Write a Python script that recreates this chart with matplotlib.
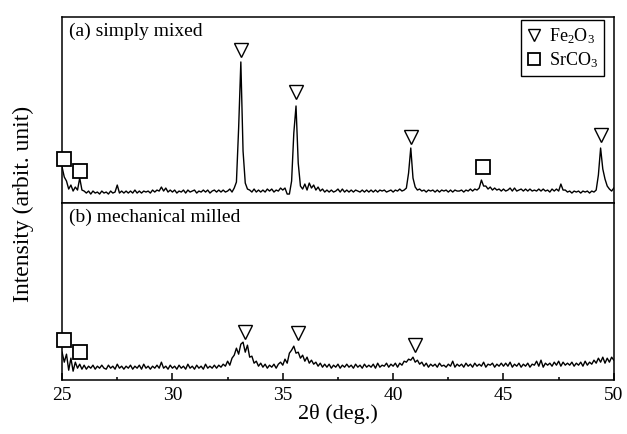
import numpy as np
import matplotlib
matplotlib.use("Agg")
from matplotlib import pyplot as plt
from matplotlib.lines import Line2D

plt.rcParams['font.family'] = ['Liberation Serif', 'DejaVu Serif']
plt.rcParams['mathtext.default'] = 'regular'

# 2theta grid of the scan (deg.), step 0.1
two_theta = np.round(np.arange(25.0, 50.0001, 0.1), 2)

# (a) simply mixed, intensity (arbit. unit)
mixed = [
    36, 26, 22, 14, 18, 12, 16, 13, 25, 13,
    12, 10, 12, 9, 12, 10, 11, 9, 12, 10,
    11, 9, 12, 10, 11, 18, 10, 12, 10, 12,
    10, 12, 10, 13, 10, 12, 10, 12, 11, 12,
    10, 13, 11, 13, 12, 16, 12, 15, 11, 13,
    11, 13, 10, 12, 11, 13, 10, 13, 11, 12,
    13, 10, 12, 11, 13, 11, 13, 10, 12, 13,
    11, 13, 11, 13, 11, 12, 14, 11, 15, 21,
    75, 141, 52, 20, 14, 13, 11, 14, 11, 13,
    11, 13, 11, 14, 12, 14, 11, 13, 12, 15,
    13, 15, 9, 9, 22, 70, 97, 40, 17, 14,
    19, 13, 20, 15, 18, 13, 16, 12, 14, 11,
    13, 11, 13, 11, 12, 14, 11, 14, 11, 13,
    11, 13, 11, 13, 12, 11, 13, 11, 13, 11,
    13, 11, 13, 11, 13, 12, 13, 11, 12, 13,
    11, 13, 12, 14, 12, 13, 15, 30, 55, 25,
    16, 13, 14, 12, 13, 11, 13, 12, 13, 11,
    13, 11, 13, 12, 13, 11, 13, 11, 13, 12,
    12, 13, 11, 13, 12, 14, 12, 14, 13, 15,
    23, 17, 17, 14, 16, 13, 15, 13, 14, 12,
    14, 12, 13, 15, 12, 15, 12, 13, 14, 12,
    14, 12, 14, 12, 13, 12, 14, 12, 14, 12,
    13, 11, 14, 12, 14, 12, 19, 13, 13, 11,
    12, 10, 12, 11, 12, 10, 12, 11, 12, 10,
    12, 11, 13, 28, 55, 34, 24, 17, 14, 12,
    15,
]

# (b) mechanical milled
milled = [
    28, 18, 26, 10, 22, 9, 18, 12, 16, 11,
    15, 11, 14, 12, 15, 11, 14, 12, 15, 12,
    11, 15, 12, 14, 11, 16, 12, 14, 11, 14,
    12, 15, 11, 14, 12, 15, 11, 16, 12, 14,
    11, 14, 12, 15, 12, 18, 12, 14, 11, 15,
    12, 14, 11, 15, 12, 14, 11, 16, 12, 14,
    11, 15, 12, 14, 11, 16, 12, 14, 12, 15,
    12, 15, 13, 16, 14, 19, 15, 22, 25, 32,
    26, 36, 38, 28, 35, 23, 24, 17, 19, 14,
    17, 13, 16, 12, 15, 13, 16, 12, 16, 18,
    15, 21, 17, 27, 30, 34, 27, 28, 22, 25,
    19, 23, 17, 20, 16, 18, 14, 17, 13, 16,
    13, 16, 12, 15, 13, 16, 12, 15, 13, 16,
    13, 15, 12, 16, 13, 15, 12, 16, 13, 15,
    13, 16, 12, 17, 13, 15, 14, 17, 13, 16,
    14, 17, 13, 17, 15, 19, 18, 21, 20, 23,
    18, 20, 16, 18, 14, 17, 13, 16, 14, 16,
    13, 17, 14, 15, 13, 16, 14, 19, 13, 16,
    14, 16, 13, 17, 14, 16, 13, 17, 14, 16,
    14, 18, 13, 16, 15, 17, 13, 16, 14, 17,
    14, 17, 14, 18, 13, 16, 14, 17, 13, 16,
    14, 17, 13, 16, 15, 19, 14, 20, 13, 17,
    15, 17, 14, 18, 15, 19, 14, 18, 15, 17,
    15, 18, 14, 17, 15, 18, 14, 19, 15, 18,
    16, 20, 17, 22, 18, 23, 17, 22, 18, 23,
    20,
]

# phase markers (position, height)
fe_a_x = [33.1, 35.6, 40.8, 49.4]
fe_a_y = [153, 111, 66, 68]
sr_a_x = [25.1, 25.8, 44.05]
sr_a_y = [44, 32, 36]
fe_b_x = [33.3, 35.7, 41.0]
fe_b_y = [48, 47, 35]
sr_b_x = [25.1, 25.8]
sr_b_y = [40, 28]

fig = plt.figure(figsize=(6.27, 4.34), dpi=100)
gs = fig.add_gridspec(2, 1, height_ratios=[186, 177], hspace=0,
                      left=0.099, right=0.979, top=0.961, bottom=0.124)
ax1 = fig.add_subplot(gs[0])
ax2 = fig.add_subplot(gs[1], sharex=ax1)

ms = 10
for ax, y, fx, fy, sx, sy, ymax, lab in [
        (ax1, mixed, fe_a_x, fe_a_y, sr_a_x, sr_a_y, 186, '(a) simply mixed'),
        (ax2, milled, fe_b_x, fe_b_y, sr_b_x, sr_b_y, 177, '(b) mechanical milled')]:
    ax.plot(two_theta, y, color='black', lw=1.0)
    ax.plot(fx, fy, 'v', ms=ms, mfc='white', mec='black', mew=1.0, ls='none',
            clip_on=False, zorder=5)
    ax.plot(sx, sy, 's', ms=ms, mfc='white', mec='black', mew=1.3, ls='none',
            clip_on=False, zorder=5)
    ax.set_ylim(0, ymax)
    ax.set_yticks([])
    ax.text(0.012, 0.92, lab, transform=ax.transAxes, fontsize=14, va='center')
    for s in ax.spines.values():
        s.set_linewidth(1.1)

ax1.set_xlim(25, 50)
ax1.tick_params(axis='x', which='both', bottom=False, labelbottom=False)
ax2.set_xticks([25, 30, 35, 40, 45, 50])
ax2.set_xticks(np.arange(27.5, 50, 5), minor=True)
ax2.tick_params(axis='x', which='major', direction='in', length=5, width=1.1,
                labelsize=14, pad=5)
ax2.tick_params(axis='x', which='minor', direction='in', length=2.5, width=1.1)
ax2.set_xlabel('2θ (deg.)', fontsize=16, labelpad=0)

handles = [
    Line2D([], [], marker='v', ms=9, mfc='white', mec='black', ls='none'),
    Line2D([], [], marker='s', ms=8, mfc='white', mec='black', mew=1.3, ls='none'),
]
leg = ax1.legend(handles, ['Fe$_2$O$_3$', 'SrCO$_3$'], loc='upper right',
                 bbox_to_anchor=(0.982, 0.985),
                 fontsize=13, frameon=True, fancybox=False, framealpha=1,
                 edgecolor='black', handlelength=0.8, handletextpad=0.4,
                 borderpad=0.35, labelspacing=0.25, borderaxespad=0)
leg.get_frame().set_linewidth(1.0)

fig.text(0.038, 0.53, 'Intensity (arbit. unit)', rotation=90, fontsize=17,
         ha='center', va='center')

fig.savefig('out.png', dpi=100)
